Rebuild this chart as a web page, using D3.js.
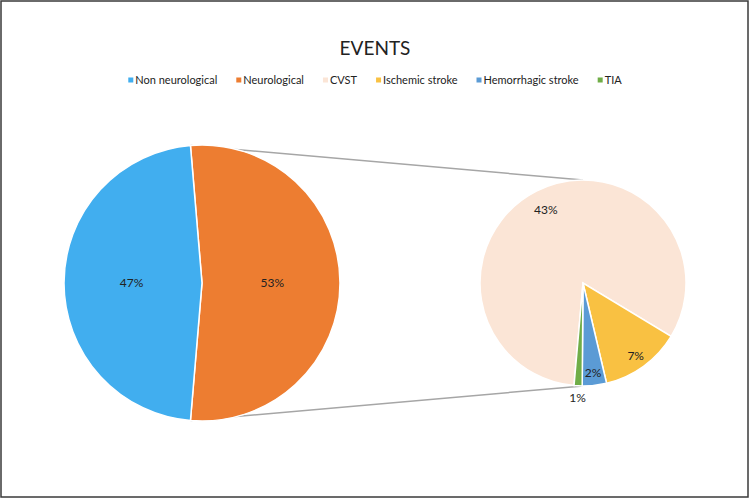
<!DOCTYPE html>
<html>
<head>
<meta charset="utf-8">
<script src="https://cdn.jsdelivr.net/npm/d3@7"></script>
<style>
  body { margin: 0; background: #fff; }
  svg text { font-family: "Liberation Sans Narrow", Lato, "Open Sans", sans-serif; fill: #222; }
</style>
</head>
<body>
<div id="chart"></div>
<script>
// main pie
const mainCats = ["Non neurological", "Neurological"];
const mainVals = [71, 79];
const mainLabels = ["47%", "53%"];

// secondary pie (breakdown of Neurological)
const subCats = ["CVST", "Ischemic stroke", "Hemorrhagic stroke", "TIA"];
const subVals = [65, 10, 3, 1];
const subLabels = ["43%", "7%", "2%", "1%"];

const legendCats = mainCats.concat(subCats);
const colors = ["#41aeef", "#ed7d31", "#fbe5d6", "#f9c142", "#5b9bd5", "#70ad47"];

const width = 750, height = 499;
const deg = Math.PI / 180;

const svg = d3.select("#chart").append("svg")
    .attr("width", width)
    .attr("height", height);

// frame
svg.append("rect")
    .attr("x", 1).attr("y", 1)
    .attr("width", width - 3).attr("height", height - 3)
    .attr("fill", "#fff")
    .attr("stroke", "#3a3a3a")
    .attr("stroke-width", 1.5);

svg.append("text")
    .attr("x", width / 2)
    .attr("y", 48)
    .attr("dy", ".35em")
    .attr("text-anchor", "middle")
    .style("font-size", "19px")
    .text("EVENTS");

// legend, centered
const color = d3.scaleOrdinal().domain(legendCats).range(colors);
const legend = svg.append("g");
const gap = 19;
let lx = 0;
legendCats.forEach(function(c) {
    const g = legend.append("g").attr("transform", "translate(" + lx + ",0)");
    g.append("rect").attr("x", 0).attr("y", -2.5).attr("width", 5).attr("height", 5).attr("fill", color(c));
    const t = g.append("text").attr("x", 7).attr("dy", ".35em").style("font-size", "11px").text(c);
    lx += 7 + t.node().getComputedTextLength() + gap;
});
lx -= gap;
legend.attr("transform", "translate(" + ((width - lx) / 2) + ",80)");

// geometry
const main = { cx: 202, cy: 283, r: 138 };
const sub = { cx: 583, cy: 283, r: 103 };

const neuroShare = mainVals[1] / d3.sum(mainVals);
const half = neuroShare * Math.PI; // half the angle of the Neurological slice
const pieMain = d3.pie().sort(null)
    .startAngle(Math.PI / 2 - half)
    .endAngle(Math.PI / 2 - half + 2 * Math.PI);
// order: Neurological first, then Non neurological
const mainArcs = pieMain([mainVals[1], mainVals[0]]);
const mainIdx = [1, 0];

const pieSub = d3.pie().sort(null)
    .startAngle(185 * deg)
    .endAngle(185 * deg + 2 * Math.PI);
const subArcs = pieSub(subVals);

// connector lines (drawn behind pies)
const pt = (p, a, r) => [p.cx + Math.sin(a) * r, p.cy - Math.cos(a) * r];
const topStart = pt(main, Math.PI / 2 - half, main.r);
const botStart = pt(main, Math.PI / 2 + half, main.r);
const lines = [[topStart, [sub.cx, sub.cy - sub.r]], [botStart, [sub.cx, sub.cy + sub.r]]];
svg.selectAll(".conn").data(lines).enter().append("line")
    .attr("x1", d => d[0][0]).attr("y1", d => d[0][1])
    .attr("x2", d => d[1][0]).attr("y2", d => d[1][1])
    .attr("stroke", "#a6a6a6")
    .attr("stroke-width", 1.5);

const arcMain = d3.arc().innerRadius(0).outerRadius(main.r);
const gMain = svg.append("g").attr("transform", "translate(" + main.cx + "," + main.cy + ")");
gMain.selectAll("path").data(mainArcs).enter().append("path")
    .attr("d", arcMain)
    .attr("fill", (d, i) => color(mainCats[mainIdx[i]]))
    .attr("stroke", "#fff")
    .attr("stroke-width", 1.5);
gMain.selectAll("text").data(mainArcs).enter().append("text")
    .attr("transform", function(d) {
        const a = (d.startAngle + d.endAngle) / 2;
        return "translate(" + (Math.sin(a) * main.r * 0.51) + "," + (-Math.cos(a) * main.r * 0.51) + ")";
    })
    .attr("text-anchor", "middle")
    .attr("dy", ".35em")
    .style("font-size", "12px")
    .text((d, i) => mainLabels[mainIdx[i]]);

const arcSub = d3.arc().innerRadius(0).outerRadius(sub.r);
const gSub = svg.append("g").attr("transform", "translate(" + sub.cx + "," + sub.cy + ")");
gSub.selectAll("path").data(subArcs).enter().append("path")
    .attr("d", arcSub)
    .attr("fill", (d, i) => color(subCats[i]))
    .attr("stroke", "#fff")
    .attr("stroke-width", 1.5);
const subLabelR = [0.8, 0.87, 0.88, 1.12];
gSub.selectAll("text").data(subArcs).enter().append("text")
    .attr("transform", function(d, i) {
        const a = (d.startAngle + d.endAngle) / 2;
        const r = sub.r * subLabelR[i];
        return "translate(" + (Math.sin(a) * r) + "," + (-Math.cos(a) * r) + ")";
    })
    .attr("text-anchor", "middle")
    .attr("dy", ".35em")
    .style("font-size", "12px")
    .text((d, i) => subLabels[i]);
</script>
</body>
</html>
